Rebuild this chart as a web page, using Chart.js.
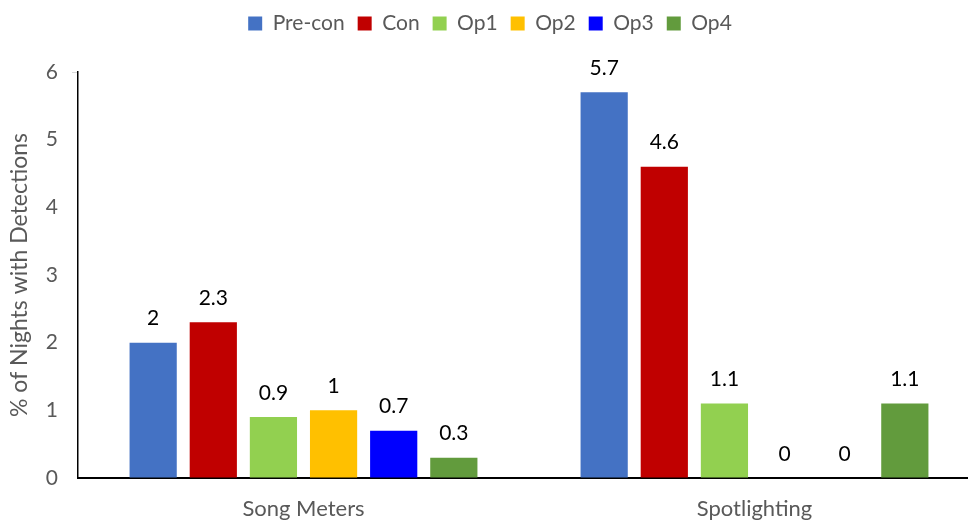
<!DOCTYPE html>
<html>
<head>
<meta charset="utf-8">
<script src="https://cdn.jsdelivr.net/npm/chart.js@4.4.1/dist/chart.umd.min.js"></script>
<style>
  html, body { margin: 0; padding: 0; background: #ffffff; overflow: hidden; }
  #wrap { width: 980px; height: 523px; position: relative; }
</style>
</head>
<body>
<div id="wrap"><canvas id="chart"></canvas></div>
<script>
// Survey methods along the category axis
const methods = ['Song Meters', 'Spotlighting'];

// Detection rates (% of nights) per survey phase
const preCon = [2, 5.7];
const con    = [2.3, 4.6];
const op1    = [0.9, 1.1];
const op2    = [1, 0];
const op3    = [0.7, 0];
const op4    = [0.3, 1.1];

const seriesNames = ['Pre-con', 'Con', 'Op1', 'Op2', 'Op3', 'Op4'];
const seriesColors = ['#4472C4', '#C00000', '#92D050', '#FFC000', '#0000FF', '#629B3D'];
const yTicks = [0, 1, 2, 3, 4, 5, 6];

const FONT = 'Lato, "Open Sans", sans-serif';

const seriesData = [preCon, con, op1, op2, op3, op4];
const datasets = seriesData.map((vals, i) => ({
  label: seriesNames[i],
  data: vals,
  backgroundColor: seriesColors[i],
  borderWidth: 0,
  categoryPercentage: 0.8,
  barPercentage: 0.785
}));

// Writes each bar's value just above it
const valueLabels = {
  id: 'valueLabels',
  afterDatasetsDraw(chart) {
    const ctx = chart.ctx;
    ctx.save();
    ctx.font = '21px ' + FONT;
    ctx.fillStyle = '#000000';
    ctx.textAlign = 'center';
    ctx.textBaseline = 'middle';
    chart.data.datasets.forEach((ds, di) => {
      const meta = chart.getDatasetMeta(di);
      meta.data.forEach((bar, i) => {
        ctx.fillText(String(ds.data[i]), bar.x, bar.y - 24);
      });
    });
    ctx.restore();
  }
};

// Reserve fixed room for the legend above the plot
const legendSpace = {
  id: 'legendSpace',
  beforeInit(chart) {
    const fit = chart.legend.fit;
    chart.legend.fit = function () {
      fit.call(this);
      this.height = 72;
    };
  }
};

new Chart(document.getElementById('chart'), {
  type: 'bar',
  data: { labels: methods, datasets },
  plugins: [valueLabels, legendSpace],
  options: {
    responsive: true,
    maintainAspectRatio: false,
    animation: false,
    layout: { padding: 0 },
    plugins: {
      tooltip: { enabled: false },
      legend: {
        position: 'top',
        align: 'center',
        labels: {
          boxWidth: 14,
          boxHeight: 14,
          padding: 13,
          color: '#595959',
          font: { family: FONT, size: 21 }
        }
      }
    },
    scales: {
      x: {
        grid: { display: false, drawTicks: false },
        border: { display: true, color: '#000000', width: 2 },
        ticks: {
          color: '#595959',
          font: { family: FONT, size: 22 },
          padding: 18
        },
        afterFit(scale) { scale.height = 45; }
      },
      y: {
        min: 0,
        max: 6,
        afterBuildTicks(scale) { scale.ticks = yTicks.map(v => ({ value: v })); },
        grid: {
          drawOnChartArea: false,
          drawTicks: true,
          tickLength: 6,
          color: (c) => (c.tick && c.tick.value === 6 ? '#d9d9d9' : 'rgba(0,0,0,0)')
        },
        border: { display: true, color: '#000000', width: 1.5 },
        ticks: {
          color: '#595959',
          font: { family: FONT, size: 21 },
          padding: 14
        },
        title: {
          display: true,
          text: '% of Nights with Detections',
          color: '#595959',
          font: { family: FONT, size: 23 },
          padding: { top: 6, bottom: 0 }
        },
        afterFit(scale) { scale.width = 78; }
      }
    }
  }
});
</script>
</body>
</html>
